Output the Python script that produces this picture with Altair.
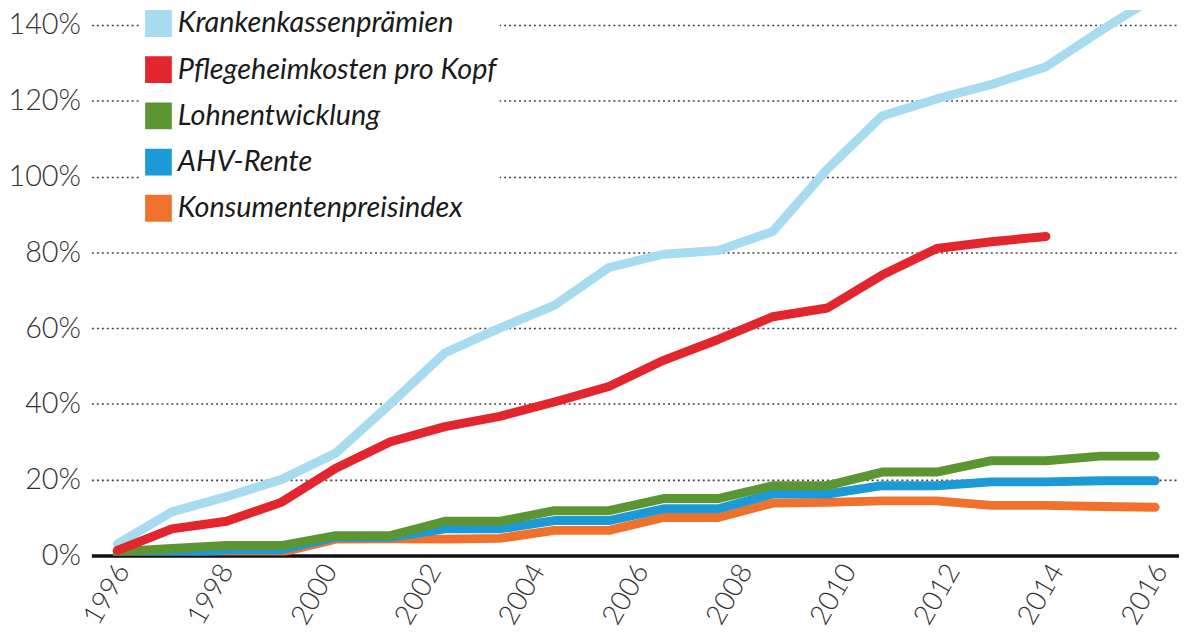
import altair as alt
import pandas as pd

# --- data ---
jahre = list(range(1996, 2016))          # 20 plotted points
achsen_jahre = list(range(1996, 2017, 2))  # axis labels
y_ticks = [0, 20, 40, 60, 80, 100, 120, 140]

serien = ["Krankenkassenprämien", "Pflegeheimkosten pro Kopf", "Lohnentwicklung",
          "AHV-Rente", "Konsumentenpreisindex"]
farben = ["#a6dbf0", "#e3262d", "#5b9632", "#1b9ad7", "#f0712c"]

krankenkassen = [3, 11.5, 15.5, 20, 27, 40, 53.5, 60, 66, 76, 79.5, 80.5, 85.5, 102,
                 116, 120.5, 124.3, 129, 138.5, 147.5]
pflegeheim = [1.3, 7, 9, 14, 23, 30, 34, 36.7, 40.5, 44.6, 51.5, 57, 63, 65.3, 74,
              81, 82.8, 84.2]
lohn = [1, 1.8, 2.6, 2.6, 5.2, 5.2, 9, 9, 11.8, 11.8, 15, 15, 18.4, 18.4, 22, 22,
        25, 25, 26.2, 26.2]
ahv = [0, 0.3, 1.5, 1.5, 4.8, 4.8, 7, 7, 9.2, 9.2, 12.3, 12.3, 16.2, 16.2, 18.4,
       18.4, 19.4, 19.4, 19.7, 19.7]
kpi = [0, 0.3, 0.5, 0.8, 4.3, 4.4, 4.3, 4.5, 6.6, 6.6, 10, 10, 13.8, 14, 14.4, 14.4,
       13.2, 13.2, 12.9, 12.7]

werte = {
    "Krankenkassenprämien": krankenkassen,
    "Pflegeheimkosten pro Kopf": pflegeheim,
    "Lohnentwicklung": lohn,
    "AHV-Rente": ahv,
    "Konsumentenpreisindex": kpi,
}
zeichen_reihenfolge = ["Krankenkassenprämien", "Konsumentenpreisindex", "AHV-Rente",
                       "Lohnentwicklung", "Pflegeheimkosten pro Kopf"]

rows = []
for k, name in enumerate(zeichen_reihenfolge):
    for j, v in zip(jahre, werte[name]):
        rows.append({"Reihe": name, "Jahr": j, "Wert": v, "Ebene": k})
df = pd.DataFrame(rows)

LABEL_FONT = "Lato"
# square legend swatch drawn as dense horizontal strokes (fills the square)
SWATCH = "".join(f"M-1.12,{y/10:.1f}H1.12" for y in range(-10, 11, 2))

linien = alt.Chart(df).mark_line(
    strokeWidth=9, strokeCap="round", strokeJoin="round", clip=True
).encode(
    x=alt.X("Jahr:Q", scale=alt.Scale(domain=[1995.527, 2015.436], nice=False, zero=False),
            axis=None),
    y=alt.Y("Wert:Q", scale=alt.Scale(domain=[0, 143.94], nice=False, zero=False),
            axis=alt.Axis(values=y_ticks, labelExpr="datum.value + '%'", title=None,
                          grid=True, gridDash=[2, 3], gridColor="#444444", gridWidth=1.6,
                          domain=False, ticks=False, labelPadding=11,
                          labelFont=LABEL_FONT, labelFontWeight=300, labelFontSize=29,
                          labelColor="#333333")),
    color=alt.Color("Reihe:N", scale=alt.Scale(domain=serien, range=farben),
                    legend=alt.Legend(title=None, orient="none", legendX=50, legendY=-4,
                                      fillColor="white", padding=3,
                                      symbolType=SWATCH, symbolSize=576,
                                      symbolStrokeWidth=3, symbolOpacity=1,
                                      labelFont=LABEL_FONT,
                                      labelFontStyle="italic", labelFontSize=29,
                                      labelColor="#1a1a1a", labelLimit=700,
                                      rowPadding=9.5, labelOffset=5)),
    detail="Ebene:O",
)

achse = alt.Chart(pd.DataFrame({"Jahr": achsen_jahre})).mark_tick(opacity=0).encode(
    x=alt.X("Jahr:Q", scale=alt.Scale(domain=[1995.464, 2016.421], nice=False, zero=False),
            axis=alt.Axis(values=achsen_jahre, format="d", title=None, orient="bottom",
                          grid=False, ticks=False, domain=True, domainColor="#111111",
                          domainWidth=3.5, labelAngle=300, labelAlign="right",
                          labelBaseline="middle", labelPadding=11, labelOffset=4,
                          labelFont=LABEL_FONT, labelFontWeight=300, labelFontSize=28,
                          labelColor="#333333")),
)

chart = alt.layer(achse, linien).resolve_scale(x="independent").properties(
    width=1095, height=549,
    autosize=alt.AutoSizeParams(type="none"),
    padding={"left": 84, "top": 0, "right": 0, "bottom": 76},
    background="white",
).configure_view(stroke=None)

chart.save("out.html", embed_options={"renderer": "svg", "actions": False})
